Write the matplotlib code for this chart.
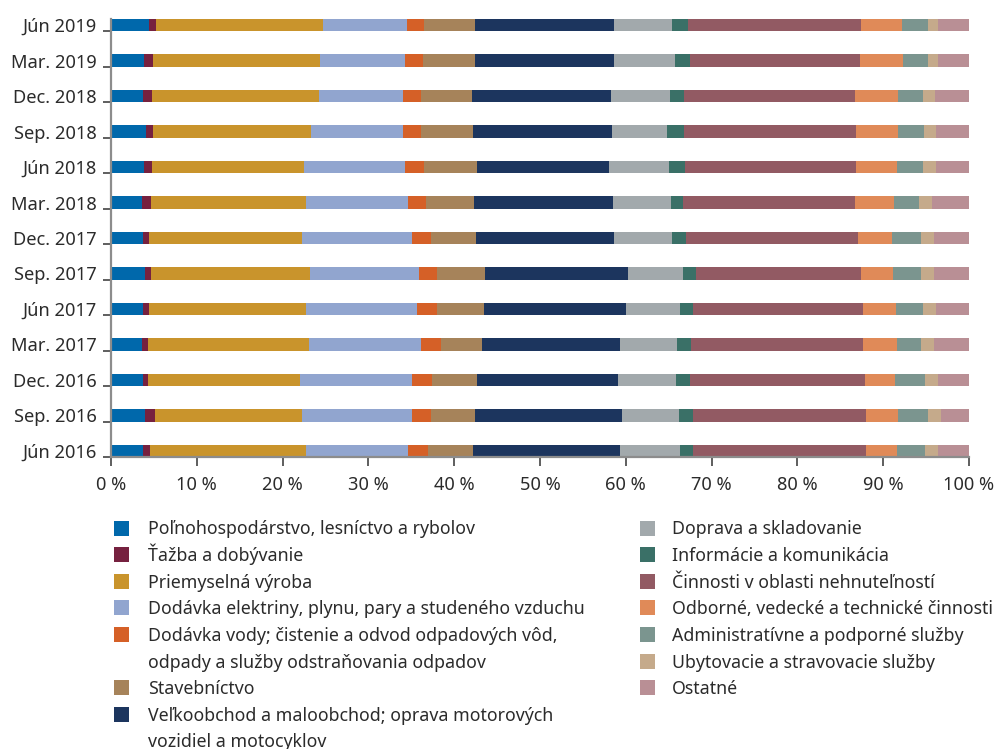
import matplotlib
matplotlib.use("Agg")
import matplotlib.pyplot as plt
from matplotlib.patches import Rectangle
import numpy as np

plt.rcParams['font.family'] = ['Noto Sans', 'DejaVu Sans']

categories = ["Jún 2016", "Sep. 2016", "Dec. 2016", "Mar. 2017", "Jún 2017", "Sep. 2017",
              "Dec. 2017", "Mar. 2018", "Jún 2018", "Sep. 2018", "Dec. 2018", "Mar. 2019", "Jún 2019"]

series_names = [
    "Poľnohospodárstvo, lesníctvo a rybolov",
    "Ťažba a dobývanie",
    "Priemyselná výroba",
    "Dodávka elektriny, plynu, pary a studeného vzduchu",
    "Dodávka vody; čistenie a odvod odpadových vôd,\nodpady a služby odstraňovania odpadov",
    "Stavebníctvo",
    "Veľkoobchod a maloobchod; oprava motorových\nvozidiel a motocyklov",
    "Doprava a skladovanie",
    "Informácie a komunikácia",
    "Činnosti v oblasti nehnuteľností",
    "Odborné, vedecké a technické činnosti",
    "Administratívne a podporné služby",
    "Ubytovacie a stravovacie služby",
    "Ostatné",
]

colors = ["#0068AB", "#76213F", "#C9942C", "#91A5CF", "#D56027", "#A6835A", "#1C355E",
          "#A2A9AC", "#3A7067", "#925A63", "#E08A58", "#7B958F", "#C5AA8B", "#B98F95"]

agri = [3.73, 3.96, 3.73, 3.61, 3.73, 3.96, 3.73, 3.61, 3.85, 4.08, 3.73, 3.85, 4.43]
mining = [0.82, 1.17, 0.58, 0.70, 0.70, 0.70, 0.70, 1.05, 0.93, 0.82, 1.05, 1.05, 0.81]
manuf = [18.18, 17.13, 17.72, 18.77, 18.30, 18.53, 17.83, 18.07, 17.71, 18.41, 19.46, 19.46, 19.47]
energy = [11.89, 12.82, 13.05, 13.05, 12.93, 12.71, 12.82, 11.89, 11.78, 10.72, 9.79, 9.91, 9.79]
water = [2.33, 2.22, 2.33, 2.33, 2.34, 2.10, 2.22, 2.09, 2.21, 2.10, 2.10, 2.09, 1.98]
constr = [5.24, 5.12, 5.25, 4.78, 5.47, 5.59, 5.24, 5.60, 6.18, 6.06, 5.94, 6.06, 5.94]
trade = [17.13, 17.14, 16.43, 16.08, 16.55, 16.67, 16.08, 16.20, 15.38, 16.20, 16.21, 16.20, 16.20]
transport = [7.00, 6.64, 6.76, 6.65, 6.30, 6.41, 6.76, 6.76, 6.99, 6.41, 6.87, 7.11, 6.76]
ict = [1.51, 1.63, 1.63, 1.63, 1.51, 1.51, 1.64, 1.40, 1.87, 1.98, 1.63, 1.75, 1.87]
realestate = [20.17, 20.17, 20.40, 20.05, 19.82, 19.23, 20.04, 20.04, 19.93, 20.05, 19.93, 19.82, 20.16]
prof = [3.61, 3.72, 3.50, 3.96, 3.84, 3.73, 3.97, 4.55, 4.78, 4.89, 5.01, 5.01, 4.78]
admin = [3.26, 3.50, 3.49, 2.80, 3.15, 3.27, 3.38, 2.91, 3.03, 3.04, 2.92, 2.91, 3.03]
accom = [1.52, 1.52, 1.52, 1.51, 1.51, 1.51, 1.51, 1.52, 1.51, 1.39, 1.40, 1.17, 1.17]
other = [3.61, 3.26, 3.61, 4.08, 3.85, 4.08, 4.08, 4.31, 3.85, 3.85, 3.96, 3.61, 3.61]

series = [agri, mining, manuf, energy, water, constr, trade, transport, ict,
          realestate, prof, admin, accom, other]
xticks = [0, 10, 20, 30, 40, 50, 60, 70, 80, 90, 100]
xticklabels = [f"{v} %" for v in xticks]

W, H = 997, 749
fig = plt.figure(figsize=(W / 100, H / 100), dpi=100)
TXT = "#2b2b2b"

def px(x, y):
    return x / W, 1 - y / H

ax_l, ax_r, ax_t, ax_b = 111, 969, 19, 457
ax = fig.add_axes([ax_l / W, 1 - ax_b / H, (ax_r - ax_l) / W, (ax_b - ax_t) / H])

bh = 0.34
ypos = np.arange(len(categories))
left = np.zeros(len(categories))
for vals, col in zip(series, colors):
    ax.barh(ypos, vals, left=left, height=bh, color=col, linewidth=0)
    left += np.array(vals)

ax.set_xlim(0, 100)
ax.set_ylim(-bh / 2, len(categories) - 1 + bh / 2)

for s in ["top", "right"]:
    ax.spines[s].set_visible(False)
for s in ["left", "bottom"]:
    ax.spines[s].set_color("#8c8c8c")
    ax.spines[s].set_linewidth(1.6)

renderer = fig.canvas.get_renderer()

def fit_size(text, target_px, base=12):
    t = fig.text(0, 0, text, fontsize=base)
    w = t.get_window_extent(renderer=renderer).width
    t.remove()
    return base * target_px / w

tick_fs = fit_size("Dec. 2018", 84)
leg_fs = min(fit_size("Poľnohospodárstvo, lesníctvo a rybolov", 345),
             fit_size("Odborné, vedecké a technické činnosti", 320),
             fit_size("Dodávka elektriny, plynu, pary a studeného vzduchu", 450))

ax.set_yticks(ypos)
ax.set_yticklabels(categories, fontsize=tick_fs, color=TXT)
ax.tick_params(axis="y", which="major", length=0, pad=10)
ax.set_yticks(ypos - bh / 2, minor=True)
ax.tick_params(axis="y", which="minor", length=6, width=1.1, color="#333333", direction="out")

ax.set_xticks(xticks)
ax.set_xticklabels(xticklabels, fontsize=tick_fs, color=TXT)
ax.tick_params(axis="x", length=6.5, width=1.1, color="#333333", direction="out", pad=7)

# legend drawn manually in two columns
row0, step = 528, 26.6
cols = [(114, 148, series_names[:7], colors[:7]), (640, 672, series_names[7:], colors[7:])]
for sq_x, tx_x, names, cols_ in cols:
    row = 0
    for name, col in zip(names, cols_):
        yc = row0 + row * step
        x0, y0 = px(sq_x, yc + 7.5)
        fig.patches.append(Rectangle((x0, y0), 15 / W, 15 / H, transform=fig.transFigure,
                                     facecolor=col, edgecolor="none"))
        for line in name.split("\n"):
            yc = row0 + row * step
            fig.text(*px(tx_x, yc + 6.5), line, fontsize=leg_fs, color=TXT, va="baseline", ha="left")
            row += 1

fig.savefig("out.png", dpi=100)
